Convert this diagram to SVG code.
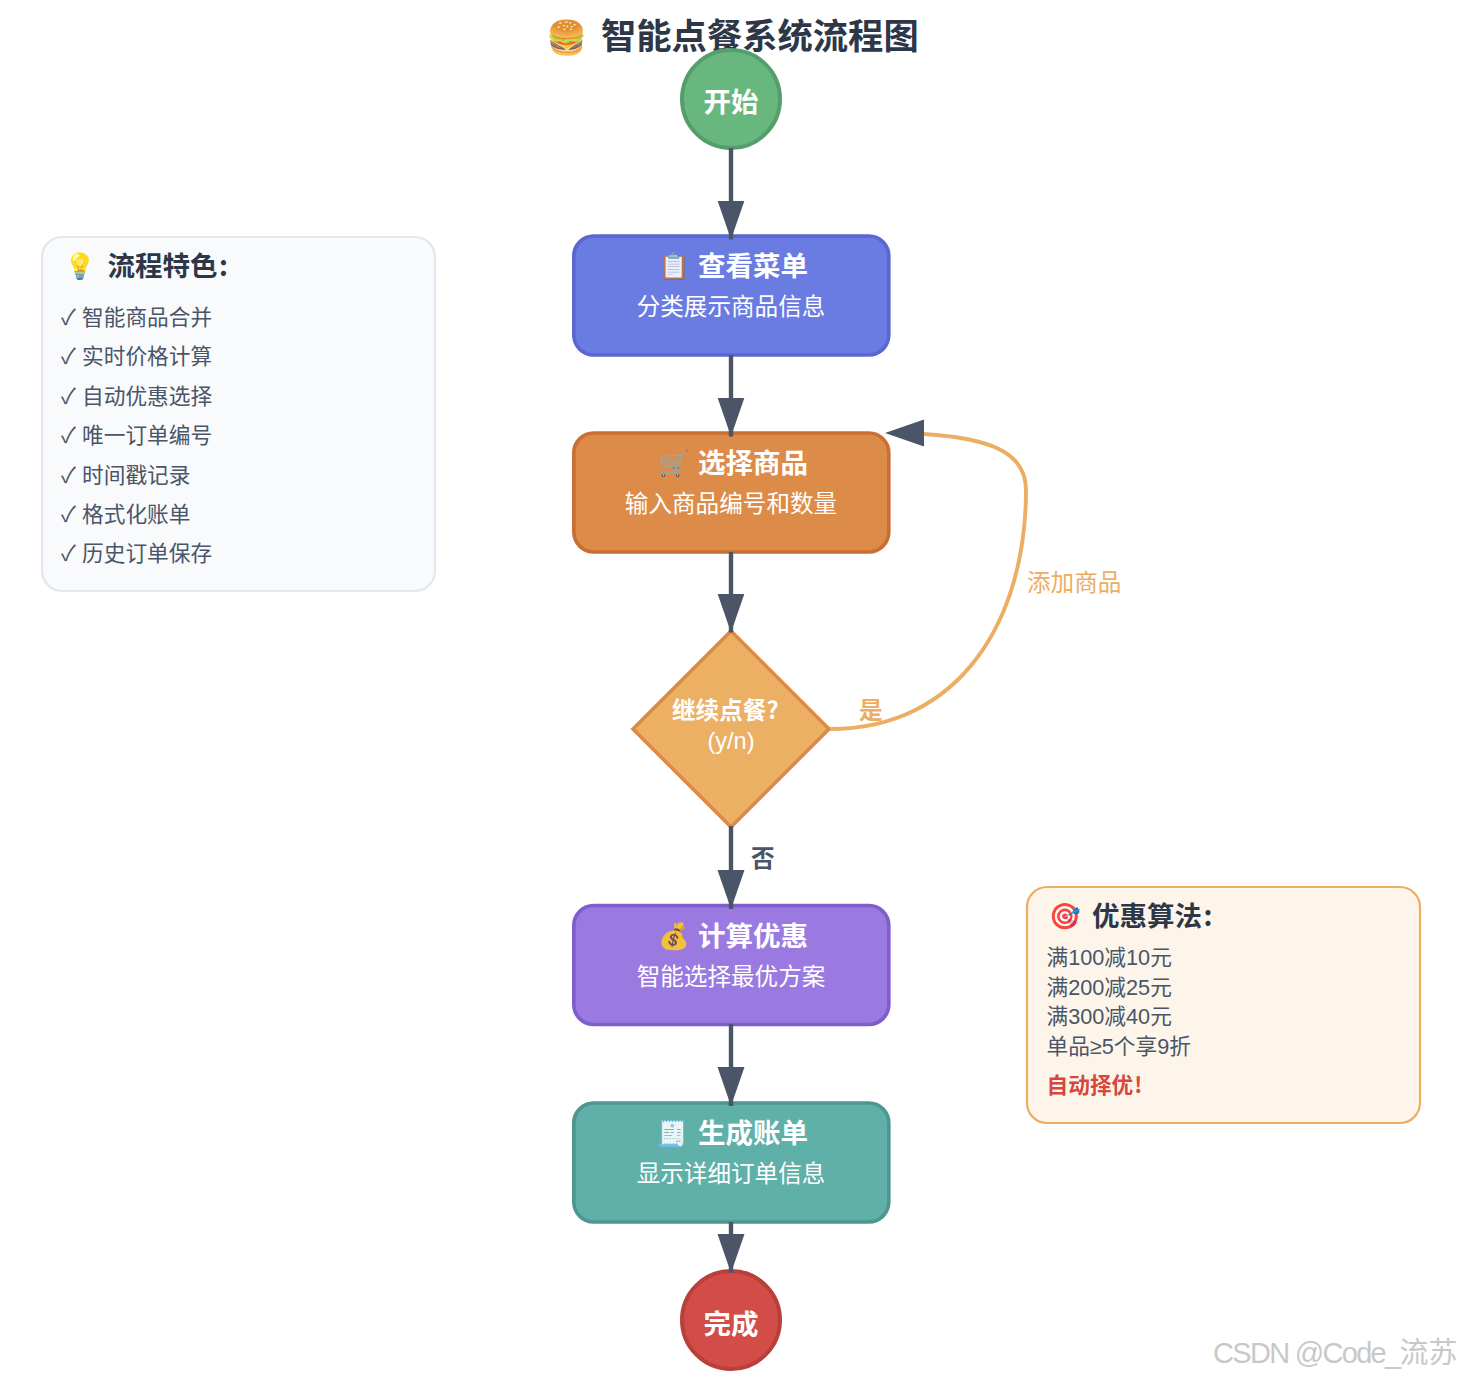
<svg xmlns="http://www.w3.org/2000/svg" width="1461" height="1379" viewBox="0 0 1461 1379">
<defs>
<style>
text{font-family:"Liberation Sans","Noto Sans CJK SC",sans-serif}
.e{font-family:"Noto Color Emoji","Noto Sans CJK SC",sans-serif;font-size:25.500px;opacity:.88}
.nt{font-size:27.500px;font-weight:700;fill:#fff}
.ns{font-size:23.600px;fill:#fff;text-anchor:middle}
.pt{font-size:27.500px;font-weight:700;fill:#2d3748}
.pi{font-size:21.700px;fill:#4a5568}
.p{font-family:"Noto Sans CJK SC",sans-serif}
.box{stroke-width:3.600}
.edge{fill:none;stroke:#4a5568;stroke-width:4.400}
</style>
<marker id="ah" markerUnits="userSpaceOnUse" markerWidth="40" markerHeight="28" refX="39" refY="13.500" orient="auto"><path d="M0 0L39 13.500L0 27z" fill="#4a5568"/></marker>
</defs>
<rect width="1461" height="1379" fill="#fff"/>
<g id="title"><text class="e" x="546" y="49" style="font-size:33px">🍔</text><text x="601" y="49" font-size="35.300" font-weight="700" fill="#2d3748">智能点餐系统流程图</text></g>
<g id="start"><circle cx="731" cy="99" r="49" fill="#68b77e" stroke="#559e6b" stroke-width="4"/><text x="731" y="112" class="nt" text-anchor="middle">开始</text></g>
<g id="menu"><rect class="box" x="573.800" y="236" width="315" height="119" rx="20" fill="#6a7ce2" stroke="#5a67d1"/><text class="e" x="658" y="275">📋</text><text class="nt" x="698" y="276">查看菜单</text><text class="ns" x="731" y="315">分类展示商品信息</text></g>
<g id="select"><rect class="box" x="573.800" y="433" width="315" height="119" rx="20" fill="#dd8b48" stroke="#c96f35"/><text class="e" x="658" y="472">🛒</text><text class="nt" x="698" y="473">选择商品</text><text class="ns" x="731" y="512">输入商品编号和数量</text></g>
<g id="decide"><path d="M731 631L829 729L731 827L633 729z" fill="#ebb063" stroke="#dc8a45" stroke-width="3.600"/><text x="672" y="719" font-size="23.600" font-weight="700" fill="#fff">继续点餐<tspan class="p">?</tspan></text><text class="ns" x="731" y="749">(y/n)</text></g>
<g id="discount"><rect class="box" x="573.800" y="905.500" width="315" height="119" rx="20" fill="#9a7ae1" stroke="#7e5dcc"/><text class="e" x="658" y="945">💰</text><text class="nt" x="698" y="946">计算优惠</text><text class="ns" x="731" y="985">智能选择最优方案</text></g>
<g id="bill"><rect class="box" x="573.800" y="1103" width="315" height="119" rx="20" fill="#5fb0a9" stroke="#4f9590"/><text class="e" x="656" y="1142">🧾</text><text class="nt" x="698" y="1143">生成账单</text><text class="ns" x="731" y="1182">显示详细订单信息</text></g>
<g id="end"><circle cx="731" cy="1320" r="49" fill="#d24d47" stroke="#b83f3a" stroke-width="4"/><text x="731" y="1334" class="nt" text-anchor="middle">完成</text></g>
<g id="connectors">
<path class="edge" d="M731 148V239.500" marker-end="url(#ah)"/>
<path class="edge" d="M731 355V436.500" marker-end="url(#ah)"/>
<path class="edge" d="M731 552V632.500" marker-end="url(#ah)"/>
<path class="edge" d="M731 826V909" marker-end="url(#ah)"/>
<path class="edge" d="M731 1024V1106" marker-end="url(#ah)"/>
<path class="edge" d="M731 1222V1273" marker-end="url(#ah)"/>
<path d="M830 729C960 729 1026 620 1026 490C1026 450 985 438 924 434" fill="none" stroke="#ecae62" stroke-width="3.900"/>
<path d="M885 433L924 419.500V446.500z" fill="#4a5568"/>
<text x="859" y="719" font-size="23.600" font-weight="700" fill="#ecae62">是</text>
<text x="1027" y="591" font-size="23.600" fill="#ecae62">添加商品</text>
<text x="751" y="867" font-size="23.600" font-weight="700" fill="#4a5568">否</text>
</g>
<g id="features"><rect x="42" y="237" width="393" height="354" rx="20" fill="#f8fafc" stroke="#e2e8f0" stroke-width="2.200"/><text class="e" x="64" y="275">💡</text><text class="pt" x="107.500" y="276">流程特色<tspan class="p" dx="1.500">:</tspan></text>
<text class="pi" x="61" y="325">✓ <tspan x="82">智能商品合并</tspan></text>
<text class="pi" x="61" y="364">✓ <tspan x="82">实时价格计算</tspan></text>
<text class="pi" x="61" y="404">✓ <tspan x="82">自动优惠选择</tspan></text>
<text class="pi" x="61" y="443">✓ <tspan x="82">唯一订单编号</tspan></text>
<text class="pi" x="61" y="483">✓ <tspan x="82">时间戳记录</tspan></text>
<text class="pi" x="61" y="522">✓ <tspan x="82">格式化账单</tspan></text>
<text class="pi" x="61" y="561">✓ <tspan x="82">历史订单保存</tspan></text></g>
<g id="algorithm"><rect x="1027" y="887" width="393" height="236" rx="20" fill="#fdf5e9" stroke="#ecae62" stroke-width="2.200"/><text class="e" x="1049" y="925">🎯</text><text class="pt" x="1092" y="926">优惠算法<tspan class="p" dx="1.500">:</tspan></text>
<text class="pi" x="1046.500" y="965">满100减10元</text>
<text class="pi" x="1046.500" y="995">满200减25元</text>
<text class="pi" x="1046.500" y="1024">满300减40元</text>
<text class="pi" x="1046.500" y="1054">单品≥5个享9折</text>
<text class="pi" x="1046.500" y="1093" style="font-weight:700;fill:#d5473f">自动择优<tspan class="p" dx="1">!</tspan></text></g>
<text id="watermark" x="1213" y="1363" font-size="29" fill="#c8c8c8"><tspan letter-spacing="-1.700">CSDN @Code_</tspan>流苏</text>
</svg>
